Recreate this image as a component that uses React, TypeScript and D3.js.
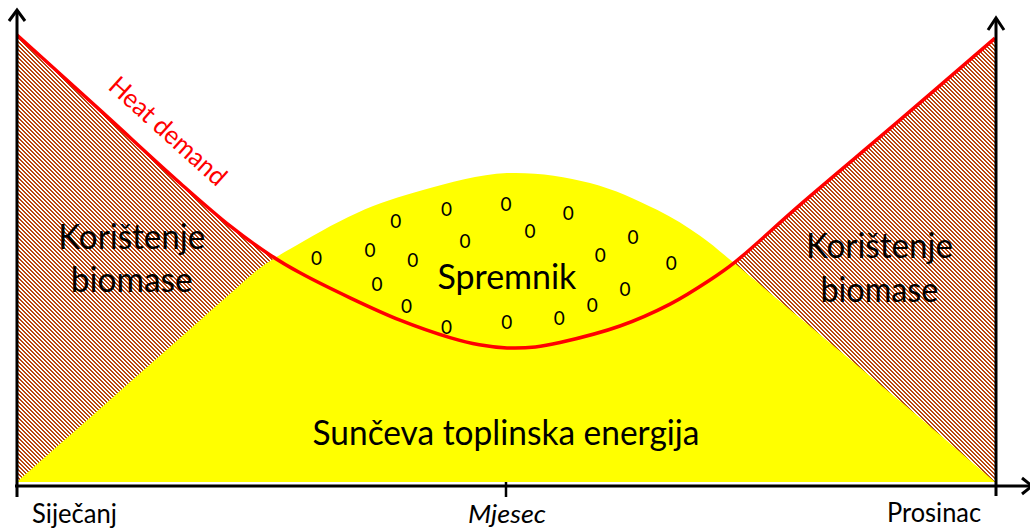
import React from 'react';
import * as d3 from 'd3';

const W = 1030;
const H = 528;

// month 1 = Siječanj, month 12 = Prosinac; values in relative units (0..100)
const heatMonths = [1.0, 1.934, 2.833, 3.396, 3.846, 4.183, 4.746, 5.308, 5.87, 6.2, 6.511, 6.83, 7.107, 7.782, 8.345, 8.794, 9.076, 9.807, 10.932, 12.0];
const heatValues = [100, 83.2, 66.9, 57.3, 50.8, 46.8, 41.2, 36.2, 32.3, 30.7, 30.0, 30.2, 31.2, 34.9, 39.8, 45.2, 49.2, 62.0, 81.0, 99.3];

const solarMonths = [1.0, 1.934, 2.833, 3.396, 3.733, 4.071, 4.824, 5.567, 6.511, 7.445, 8.198, 8.682, 9.053, 9.807, 10.932, 12.0];
const solarValues = [0, 16.4, 32.2, 42.1, 47.9, 52.1, 60.2, 65.3, 69.1, 66.9, 60.9, 55.1, 49.2, 36.7, 18.1, 0];

// little "0" marks inside the storage area
const storeMonths = [4.37, 4.97, 5.26, 5.83, 6.5, 7.2, 6.77, 6.04, 5.45, 5.05, 5.38, 5.83, 6.51, 7.1, 7.47, 7.84, 7.56, 7.93, 8.36];
const storeValues = [50.3, 52.1, 58.6, 61.1, 62.4, 60.2, 56.2, 54.1, 49.7, 44.3, 39.4, 34.7, 35.8, 36.9, 39.6, 43.2, 51.0, 55.0, 49.0];

const tickMonths = [1, 6.5, 12];
const tickLabels = ['Siječanj', 'Mjesec', 'Prosinac'];

const FONT = 'Lato, "Open Sans", sans-serif';
const BROWN = '#B8460E';

export default function App() {
  const x = d3.scaleLinear().domain([1, 12]).range([17, 995]);
  const y = d3.scaleLinear().domain([0, 100]).range([482, 35]);

  const heat = heatMonths.map((m, i) => [m, heatValues[i]] as [number, number]);
  const solar = solarMonths.map((m, i) => [m, solarValues[i]] as [number, number]);

  const curve = d3.curveCatmullRom.alpha(0.5);
  const area = d3.area<[number, number]>()
    .x(d => x(d[0]))
    .y0(y(0))
    .y1(d => y(d[1]))
    .curve(curve);
  const line = d3.line<[number, number]>()
    .x(d => x(d[0]))
    .y(d => y(d[1]))
    .curve(curve);

  const axisY = y(0) + 4;
  const left = x(1);
  const right = x(12) + 1;

  // label for the heat demand line, parallel to it
  const hx = x(2.63), hy = y(77.0);

  return (
    <svg width={W} height={H} style={{ position: 'absolute', left: 0, top: 0, background: '#fff' }}
      fontFamily={FONT}>
      <defs>
        <pattern id="hatch" patternUnits="userSpaceOnUse" width="4" height="4">
          <rect width="4" height="4" fill="#fff" />
          <g fill={BROWN} shapeRendering="crispEdges">
            <rect x="0" y="0" width="2" height="1" />
            <rect x="1" y="1" width="2" height="1" />
            <rect x="2" y="2" width="2" height="1" />
            <rect x="3" y="3" width="1" height="1" />
            <rect x="0" y="3" width="1" height="1" />
          </g>
        </pattern>
      </defs>

      <path d={area(heat) || ''} fill="url(#hatch)" />
      <path d={area(solar) || ''} fill="#FFFF00" />
      <path d={line(heat) || ''} fill="none" stroke="#FF0000" strokeWidth={3.5} />

      {storeMonths.map((m, i) => (
        <text key={i} x={x(m)} y={y(storeValues[i])} fontSize={19} textAnchor="middle"
          dominantBaseline="central" fill="#000">0</text>
      ))}

      {/* axes */}
      <g stroke="#000" strokeWidth={3} fill="none">
        <line x1={left} x2={left} y1={axisY + 11} y2={11} />
        <path d={`M${left - 8},${21} L${left},${10} L${left + 8},${21}`} />
        <line x1={right} x2={right} y1={axisY + 10} y2={19} />
        <path d={`M${right - 8},${30} L${right},${18} L${right + 8},${30}`} />
        <line x1={left - 2} x2={W} y1={axisY} y2={axisY} />
        <path d={`M${W - 8},${axisY - 8} L${W + 2},${axisY} L${W - 8},${axisY + 8}`} />
        <line x1={x(6.5)} x2={x(6.5)} y1={axisY - 4} y2={axisY + 11} strokeWidth={2.5} />
      </g>

      <g fontSize={26} fill="#000">
        <text x={x(tickMonths[0]) + 15} y={523} textLength={85} lengthAdjust="spacingAndGlyphs">{tickLabels[0]}</text>
        <text x={x(tickMonths[1]) + 1} y={523} textAnchor="middle" fontStyle="italic" textLength={78}
          lengthAdjust="spacingAndGlyphs">{tickLabels[1]}</text>
        <text x={x(tickMonths[2]) - 14} y={522} textAnchor="end" textLength={94}
          lengthAdjust="spacingAndGlyphs">{tickLabels[2]}</text>
      </g>

      <g fontSize={35} fill="#000" textAnchor="middle">
        <text x={x(2.29)} y={y(52.1)} textLength={147} lengthAdjust="spacingAndGlyphs">Korištenje</text>
        <text x={x(2.29)} y={y(42.5)} textLength={122} lengthAdjust="spacingAndGlyphs">biomase</text>
        <text x={x(10.7)} y={y(50.1)} textLength={147} lengthAdjust="spacingAndGlyphs">Korištenje</text>
        <text x={x(10.7)} y={y(40.3)} textLength={118} lengthAdjust="spacingAndGlyphs">biomase</text>
        <text x={x(6.51)} y={y(43.2)} textLength={139} lengthAdjust="spacingAndGlyphs">Spremnik</text>
        <text x={x(6.5)} y={y(8.3)} textLength={387} lengthAdjust="spacingAndGlyphs">Sunčeva toplinska energija</text>
      </g>

      <text x={hx} y={hy} fontSize={26} fill="#FF0000" textAnchor="middle" textLength={148}
        lengthAdjust="spacingAndGlyphs" transform={`rotate(42 ${hx} ${hy})`}>Heat demand</text>
    </svg>
  );
}
